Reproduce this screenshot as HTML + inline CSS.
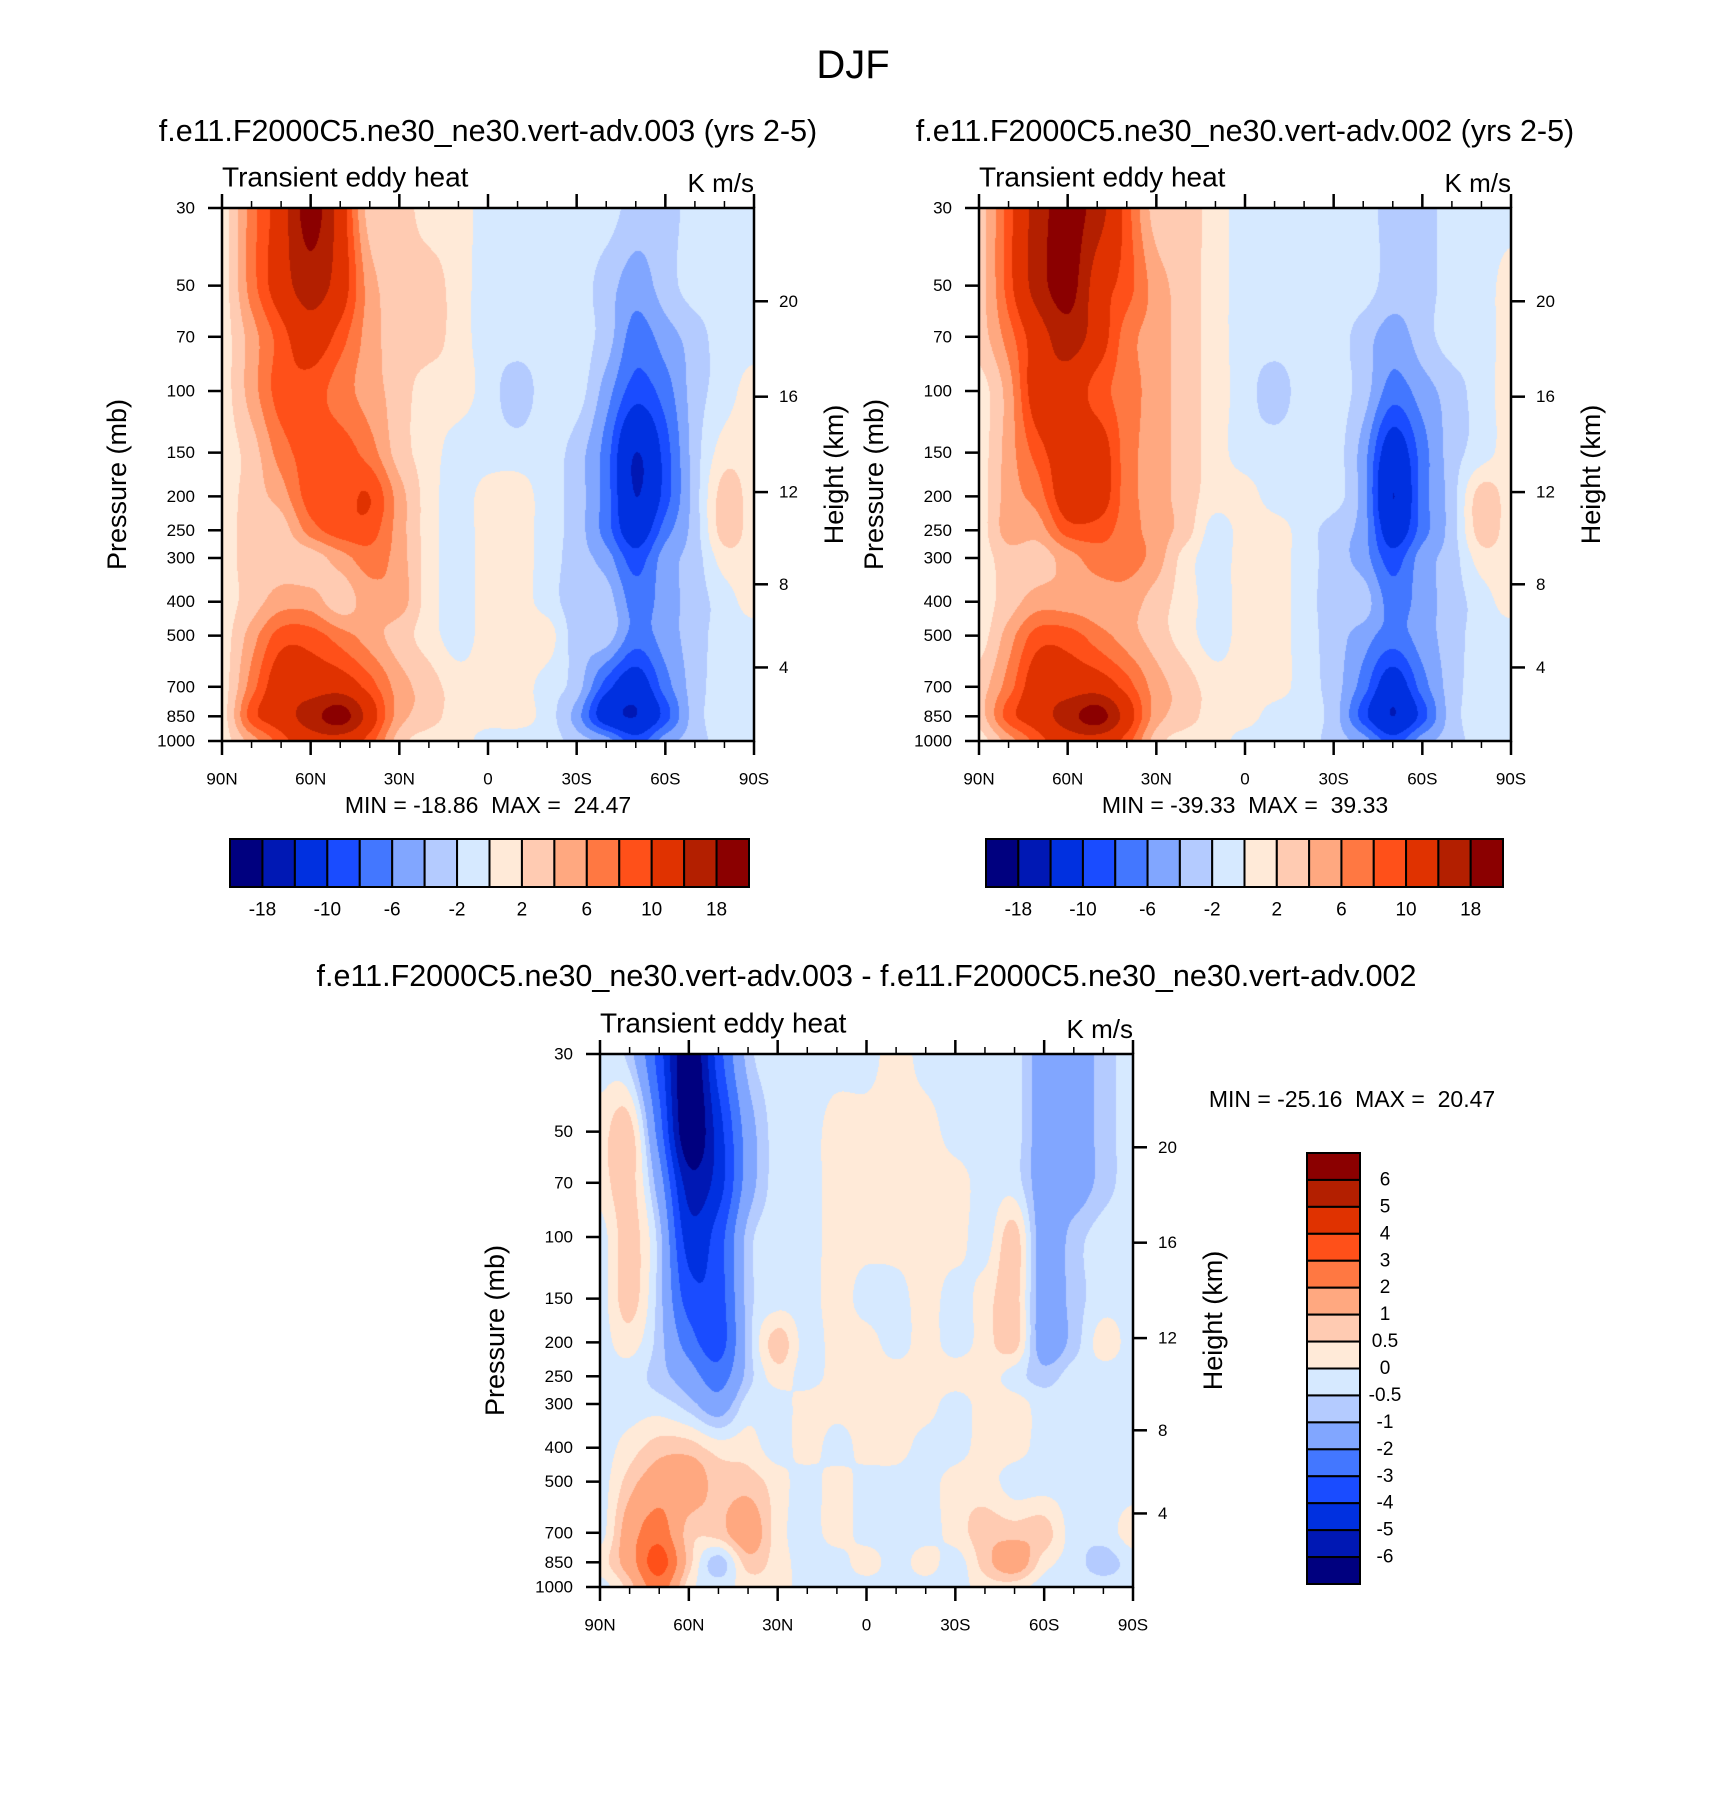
<!DOCTYPE html>
<html><head><meta charset="utf-8">
<style>
body{margin:0;background:#fff;}
#wrap{position:relative;width:1710px;height:1803px;overflow:hidden;background:#fff;font-family:"Liberation Sans",sans-serif;}
canvas{position:absolute;}
svg{position:absolute;left:0;top:0;}
text{font-family:"Liberation Sans",sans-serif;fill:#000;white-space:pre;}
</style></head>
<body>
<div id="wrap">
<canvas id="c1" width="532" height="533" style="left:222px;top:208px"></canvas>
<canvas id="c2" width="532" height="533" style="left:979px;top:208px"></canvas>
<canvas id="c3" width="533" height="533" style="left:600px;top:1054px"></canvas>
<svg id="ov" width="1710" height="1803" xml:space="preserve"></svg>
</div>
<script>
const lats=[90,80,70,60,50,40,30,20,10,0,-10,-20,-30,-40,-50,-60,-70,-80,-90];
const levs=[30,50,70,100,150,200,250,300,400,500,700,850,1000];
const presTicks=[30,50,70,100,150,200,250,300,400,500,700,850,1000];
const latTickVals=[90,60,30,0,-30,-60,-90];
const latTickLabels=["90N","60N","30N","0","30S","60S","90S"];
const hgtTicks=[20,16,12,8,4];
const hgtFrac=[0.175,0.354,0.533,0.706,0.862];
const colors=["#00007F","#0018B4","#0030E0","#1A4CFF","#4377FF","#81A6FF","#B4CBFF","#D6E9FF","#FFEAD8","#FFCBB2","#FFA880","#FF7842","#FF5019","#E03200","#B31F00","#8B0000"];
const cnLevels=[-18,-14,-10,-8,-6,-4,-2,0,2,4,6,8,10,14,18];
const cbLabels=["-18","-10","-6","-2","2","6","10","18"];
const diffLevels=[-6,-5,-4,-3,-2,-1,-0.5,0,0.5,1,2,3,4,5,6];
const diffLabels=["6","5","4","3","2","1","0.5","0","-0.5","-1","-2","-3","-4","-5","-6"];
const field003=[
[1,7,12,20,12,3,3,1,1,-1,-1,-1,-1,-1,-3,-3,-1,-1,-1],
[1,7,12,16,12,5,3,3,1,-1,-1,-1,-1,-3,-5,-3,-1,-1,-1],
[1,5,9,12,9,5,3,3,1,-1,-1,-1,-1,-3,-7,-5,-3,-1,-1],
[1,5,9,9,7,5,3,1,1,-1,-3,-1,-1,-5,-9,-7,-3,-1,1],
[1,3,7,9,9,7,3,1,-1,-1,-1,-1,-3,-7,-14,-9,-3,1,1],
[1,3,5,9,9,10,5,1,-1,1,1,-1,-3,-7,-14,-9,-3,3,1],
[1,3,3,7,9,9,5,1,-1,1,1,-1,-3,-7,-12,-7,-3,3,1],
[1,3,3,3,5,7,5,1,-1,1,1,-1,-3,-5,-9,-5,-3,1,1],
[1,3,5,5,3,5,5,1,-1,1,1,-1,-3,-3,-7,-5,-3,-1,1],
[1,5,9,9,7,5,3,1,-1,1,1,1,-3,-3,-7,-5,-3,-1,-1],
[1,7,12,12,12,9,5,3,1,1,1,-1,-3,-9,-12,-7,-3,-1,-1],
[1,9,12,16,20,12,5,3,1,1,1,-1,-5,-12,-14,-9,-3,-1,-1],
[1,5,9,12,12,9,3,1,1,-1,-1,-1,-3,-5,-9,-5,-3,-1,-1]];
const field002=[
[3,9,16,20,16,9,3,3,1,-1,-1,-1,-1,-1,-3,-3,-1,-1,-1],
[3,9,16,20,12,9,5,3,1,-1,-1,-1,-1,-1,-3,-3,-1,-1,1],
[3,7,12,16,12,7,5,3,1,-1,-1,-1,-1,-3,-5,-3,-1,-1,1],
[1,5,12,12,9,7,5,3,1,-1,-3,-1,-1,-3,-7,-5,-3,-1,1],
[1,5,9,12,12,7,5,3,1,-1,-1,-1,-1,-5,-12,-7,-3,-1,1],
[1,5,7,12,12,7,5,3,1,1,-1,-1,-1,-5,-14,-7,-3,3,1],
[1,5,5,9,9,7,5,3,-1,1,1,-1,-3,-5,-12,-7,-3,3,1],
[1,3,3,5,7,7,5,1,-1,1,1,-1,-3,-5,-9,-5,-3,1,1],
[1,3,5,5,5,5,3,1,-1,1,1,-1,-3,-3,-7,-5,-3,-1,1],
[1,5,9,9,7,5,3,1,-1,1,1,-1,-3,-5,-7,-5,-3,-1,-1],
[3,7,12,12,12,9,5,3,1,1,1,-1,-3,-7,-12,-7,-3,-1,-1],
[3,9,12,16,20,12,5,3,1,1,-1,-1,-3,-9,-14,-9,-3,-1,-1],
[1,5,9,12,12,9,3,1,1,-1,-1,-1,-3,-5,-9,-5,-3,-1,-1]];
const fieldDiff=[
[-0.25,-0.75,-3.5,-7,-3.5,-0.75,-0.25,-0.25,-0.25,-0.25,0.25,-0.25,-0.25,-0.25,-0.25,-1.5,-1.5,-0.75,-0.25],
[0.25,0.75,-2.5,-7,-4.5,-1.5,-0.25,-0.25,0.25,0.25,0.25,0.25,-0.25,-0.25,-0.25,-1.5,-1.5,-0.75,-0.25],
[0.25,0.75,-1.5,-5.5,-4.5,-1.5,-0.25,-0.25,0.25,0.25,0.25,0.25,0.25,-0.25,-0.25,-1.5,-1.5,-0.75,-0.25],
[-0.25,0.75,-0.75,-4.5,-3.5,-0.75,-0.25,-0.25,0.25,0.25,0.25,0.25,0.25,-0.25,0.75,-1.5,-0.75,-0.25,-0.25],
[-0.25,0.75,-0.75,-3.5,-3.5,-0.75,-0.25,-0.25,0.25,-0.25,-0.25,0.25,-0.25,0.25,0.75,-1.5,-0.75,-0.25,-0.25],
[-0.25,0.25,-0.75,-2.5,-3.5,-0.75,0.75,-0.25,0.25,0.25,-0.25,0.25,-0.25,0.25,0.75,-1.5,-0.75,0.25,-0.25],
[-0.25,-0.25,-0.75,-1.5,-2.5,-0.75,0.25,-0.25,0.25,0.25,0.25,0.25,0.25,0.25,-0.25,-0.75,-0.25,-0.25,-0.25],
[-0.25,-0.25,-0.25,-0.75,-1.5,-0.25,-0.25,0.25,0.25,0.25,0.25,0.25,-0.25,0.25,0.25,-0.25,-0.25,-0.25,-0.25],
[-0.25,0.25,0.75,0.75,0.25,0.25,-0.25,0.25,-0.25,0.25,0.25,-0.25,-0.25,0.25,0.25,-0.25,-0.25,-0.25,-0.25],
[-0.25,0.75,1.5,1.5,0.75,0.75,0.25,-0.25,0.25,-0.25,-0.25,-0.25,0.25,0.25,-0.25,-0.25,-0.25,-0.25,-0.25],
[-0.25,1.5,2.5,0.75,0.75,1.5,0.25,-0.25,0.25,-0.25,-0.25,-0.25,0.25,0.75,0.75,0.75,-0.25,-0.25,0.25],
[0.25,1.5,3.5,0.75,-0.75,0.75,0.25,-0.25,-0.25,0.25,-0.25,0.25,-0.25,0.75,1.5,0.25,-0.25,-0.75,-0.25],
[-0.25,0.75,2.5,0.25,-0.25,0.25,0.25,-0.25,-0.25,-0.25,-0.25,-0.25,-0.25,0.25,0.25,-0.25,-0.25,-0.25,-0.25]];

const L30=Math.log10(30),L1000=Math.log10(1000);
function yFrac(p){return (Math.log10(p)-L30)/(L1000-L30);}
function xFrac(lat){return (90-lat)/180;}
function hex(c){return [parseInt(c.slice(1,3),16),parseInt(c.slice(3,5),16),parseInt(c.slice(5,7),16)];}
const rgb=colors.map(hex);
const levFr=levs.map(yFrac);

function cr(p0,p1,p2,p3,t){
  return 0.5*((2*p1)+(-p0+p2)*t+(2*p0-5*p1+4*p2-p3)*t*t+(-p0+3*p1-3*p2+p3)*t*t*t);
}
function drawField(id,data,levels){
  const cv=document.getElementById(id),ctx=cv.getContext('2d');
  const W=cv.width,H=cv.height,img=ctx.createImageData(W,H);
  const nr=data.length,nc=data[0].length;
  const g=(r,c)=>data[Math.max(0,Math.min(nr-1,r))][Math.max(0,Math.min(nc-1,c))];
  for(let py=0;py<H;py++){
    const fy=(py+0.5)/H;
    let r=0;while(r<levFr.length-2&&levFr[r+1]<fy)r++;
    const ty=Math.min(1,Math.max(0,(fy-levFr[r])/(levFr[r+1]-levFr[r])));
    for(let px=0;px<W;px++){
      const fx=(px+0.5)/W*(nc-1);
      let c=Math.min(nc-2,Math.floor(fx));const tx=fx-c;
      const rows=[];
      for(let k=-1;k<=2;k++){
        rows.push(cr(g(r+k,c-1),g(r+k,c),g(r+k,c+1),g(r+k,c+2),tx));
      }
      const v=cr(rows[0],rows[1],rows[2],rows[3],ty);
      let k=0;while(k<levels.length&&v>=levels[k])k++;
      const col=rgb[k],i=(py*W+px)*4;
      img.data[i]=col[0];img.data[i+1]=col[1];img.data[i+2]=col[2];img.data[i+3]=255;
    }
  }
  ctx.putImageData(img,0,0);
}
drawField('c1',field003,cnLevels);
drawField('c2',field002,cnLevels);
drawField('c3',fieldDiff,diffLevels);

const NS='http://www.w3.org/2000/svg';
const ov=document.getElementById('ov');
function el(tag,attrs,parent){const e=document.createElementNS(NS,tag);for(const k in attrs)e.setAttribute(k,attrs[k]);(parent||ov).appendChild(e);return e;}
function txt(x,y,s,size,anchor,extra){const t=el('text',Object.assign({x:x,y:y,'font-size':size,'text-anchor':anchor||'middle','dominant-baseline':'central'},extra||{}));t.textContent=s;return t;}

function axes(name,x0,y0,w,h,title,titleY){
  const g=el('g',{});
  
  
  el('rect',{x:x0,y:y0,width:w,height:h,fill:'none',stroke:'#000','stroke-width':2.5},g);
  for(let lat=90;lat>=-90;lat-=10){
    const x=x0+xFrac(lat)*w,maj=(lat%30===0);
    const len=maj?14:7;
    el('line',{x1:x,y1:y0+h,x2:x,y2:y0+h+len,stroke:'#000','stroke-width':maj?2.5:1.5},g);
    el('line',{x1:x,y1:y0,x2:x,y2:y0-len,stroke:'#000','stroke-width':maj?2.5:1.5},g);
  }
  latTickVals.forEach((v,i)=>{
    const t=txt(x0+xFrac(v)*w,y0+h+38,latTickLabels[i],17);
    
    
  });
  presTicks.forEach(p=>{
    const y=y0+yFrac(p)*h;
    el('line',{x1:x0,y1:y,x2:x0-14,y2:y,stroke:'#000','stroke-width':2.5},g);
    const t=txt(x0-27,y,String(p),17,'end');
    
    
  });
  hgtTicks.forEach((km,i)=>{
    const y=y0+hgtFrac[i]*h;
    el('line',{x1:x0+w,y1:y,x2:x0+w+14,y2:y,stroke:'#000','stroke-width':2.5},g);
    const t=txt(x0+w+25,y,String(km),17,'start');
    
    
  });
  let t=txt(x0,y0-31,'Transient eddy heat',28,'start');
  
  t=txt(x0+w,y0-25,'K m/s',26,'end');
  
  t=txt(x0-105,y0+h/2+10,'Pressure (mb)',27,'middle',{transform:'rotate(-90 '+(x0-105)+' '+(y0+h/2+10)+')'});
  
  t=txt(x0+w+80,y0+h/2,'Height (km)',27,'middle',{transform:'rotate(-90 '+(x0+w+80)+' '+(y0+h/2)+')'});
  
  t=txt(x0+w/2,titleY,title,30.5);
  
}
axes('panel-003',222,208,532,533,'f.e11.F2000C5.ne30_ne30.vert-adv.003 (yrs 2-5)',131);
axes('panel-002',979,208,532,533,'f.e11.F2000C5.ne30_ne30.vert-adv.002 (yrs 2-5)',131);
axes('panel-diff',600,1054,533,533,'f.e11.F2000C5.ne30_ne30.vert-adv.003 - f.e11.F2000C5.ne30_ne30.vert-adv.002',976);

let t=txt(853,65,'DJF',40);
t=txt(488,805,'MIN = -18.86  MAX =  24.47',23);
t=txt(1245,805,'MIN = -39.33  MAX =  39.33',23);
t=txt(1352,1099,'MIN = -25.16  MAX =  20.47',23);

function hbar(name,x0,x1,y0,y1){
  const g=el('g',{});
  
  
  const n=colors.length,bw=(x1-x0)/n;
  colors.forEach((c,i)=>{el('rect',{x:x0+i*bw,y:y0,width:bw,height:y1-y0,fill:c,stroke:'#000','stroke-width':2},g);});
  cbLabels.forEach((s,i)=>{
    const tt=txt(x0+(2*i+1)*bw,y1+23,s,19);
    
    
  });
}
hbar('colorbar-003',230,749,839,887);
hbar('colorbar-002',986,1503,839,887);
(function(){
  const g=el('g',{});
  
  
  const x0=1307,x1=1360,y0=1153,y1=1584,n=colors.length,bh=(y1-y0)/n;
  colors.slice().reverse().forEach((c,i)=>{el('rect',{x:x0,y:y0+i*bh,width:x1-x0,height:bh,fill:c,stroke:'#000','stroke-width':2},g);});
  diffLabels.forEach((s,i)=>{
    const tt=txt(1385,y0+(i+1)*bh,s,19);
    
    
  });
})();
</script>
</body></html>
